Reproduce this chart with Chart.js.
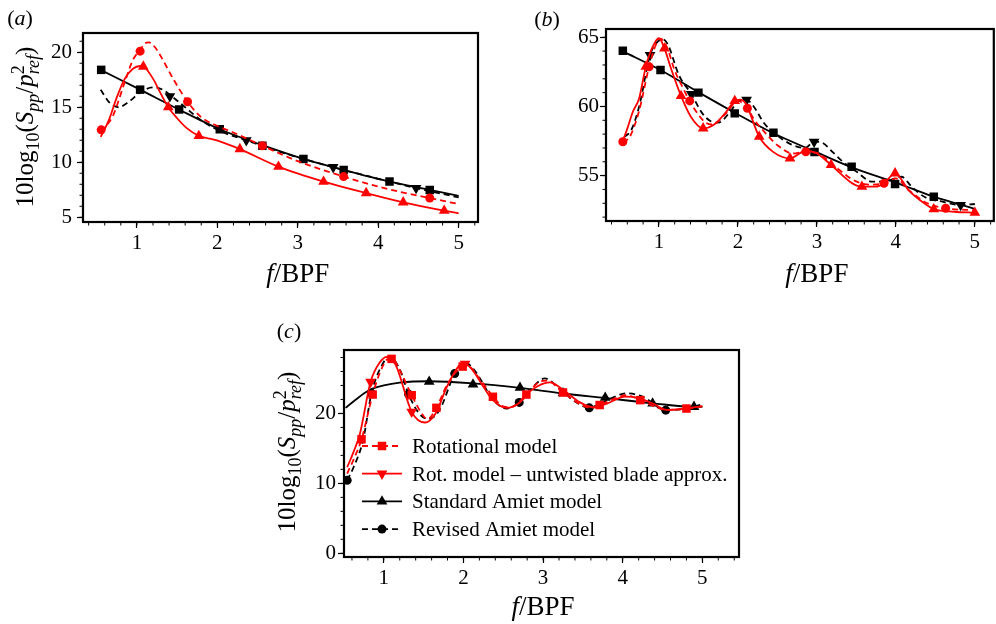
<!DOCTYPE html>
<html>
<head>
<meta charset="utf-8">
<script src="https://cdn.jsdelivr.net/npm/chart.js@4/dist/chart.umd.min.js"></script>
<style>
  body { margin: 0; width: 996px; height: 624px; overflow: hidden; background: #fff; position: relative; }
  canvas { position: absolute; }
</style>
</head>
<body>
<canvas id="ca" width="500" height="290" style="left:0;top:0"></canvas>
<canvas id="cb" width="480" height="290" style="left:520px;top:0"></canvas>
<canvas id="cc" width="500" height="324" style="left:260px;top:300px"></canvas>
<script>
// ---------- panel (a) ----------
const aSolidBlkX = [0.55, 1.04, 1.52, 2.03, 2.56, 3.07, 3.57, 4.14, 4.64, 5.0];
const aSolidBlkY = [18.4, 16.6, 14.8, 13.0, 11.55, 10.3, 9.3, 8.25, 7.5, 6.95];
const aSqX = [0.556, 1.04, 1.525, 2.03, 2.56, 3.07, 3.57, 4.14, 4.64];
const aSqY = [18.4, 16.6, 14.8, 13.0, 11.5, 10.3, 9.3, 8.25, 7.48];

const aDashBlkX = [0.55, 0.65, 0.77, 0.9, 1.05, 1.2, 1.32, 1.45, 1.6, 1.8, 2.03, 2.36, 2.8, 3.44, 4.0, 4.47, 5.0];
const aDashBlkY = [16.6, 15.5, 15.0, 15.5, 16.4, 16.8, 16.6, 15.9, 15.0, 13.8, 12.85, 12.0, 10.9, 9.55, 8.5, 7.65, 6.8];
const aDnX = [1.41, 2.36, 3.44, 4.47];
const aDnY = [16.0, 12.0, 9.55, 7.65];

const aDashRedX = [0.55, 0.7, 0.85, 0.95, 1.04, 1.1, 1.15, 1.22, 1.3, 1.45, 1.63, 1.8, 2.0, 2.2, 2.56, 3.0, 3.57, 4.1, 4.64, 5.0];
const aDashRedY = [12.8, 14.2, 17.3, 19.3, 20.2, 20.8, 20.9, 20.5, 19.6, 17.6, 15.5, 14.1, 13.3, 12.7, 11.5, 10.1, 8.7, 7.6, 6.75, 6.2];
const aCiX = [0.556, 1.04, 1.63, 2.56, 3.57, 4.64];
const aCiY = [12.95, 20.1, 15.5, 11.5, 8.7, 6.75];

const aSolidRedX = [0.55, 0.65, 0.75, 0.85, 0.95, 1.04, 1.1, 1.2, 1.3, 1.39, 1.5, 1.62, 1.77, 1.9, 2.03, 2.28, 2.76, 3.32, 3.85, 4.31, 4.82, 5.0];
const aSolidRedY = [12.3, 13.8, 15.9, 17.6, 18.5, 18.75, 18.6, 17.6, 16.2, 15.0, 14.0, 13.1, 12.4, 12.15, 11.9, 11.2, 9.6, 8.24, 7.2, 6.36, 5.6, 5.36];
const aUpX = [1.08, 1.39, 1.77, 2.28, 2.76, 3.32, 3.85, 4.31, 4.82];
const aUpY = [18.7, 15.0, 12.4, 11.2, 9.6, 8.24, 7.2, 6.36, 5.6];

// ---------- panel (b) ----------
const bSolidBlkX = [0.54, 1.03, 1.51, 1.96, 2.45, 2.97, 3.44, 4.0, 4.48, 5.0];
const bSolidBlkY = [64.0, 62.6, 61.0, 59.55, 58.06, 56.75, 55.6, 54.5, 53.48, 52.6];
const bSqX = [0.543, 1.02, 1.5, 1.96, 2.45, 2.97, 3.44, 3.99, 4.48];
const bSqY = [64.03, 62.64, 61.0, 59.5, 58.1, 56.7, 55.64, 54.4, 53.48];

const bDashBlkX = [0.56, 0.65, 0.75, 0.888, 0.97, 1.05, 1.12, 1.25, 1.41, 1.55, 1.65, 1.75, 1.9, 2.0, 2.11, 2.2, 2.33, 2.5, 2.66, 2.85, 2.965, 3.08, 3.2, 3.33, 3.5, 3.7, 3.9, 4.07, 4.2, 4.36, 4.6, 4.82, 5.0];
const bDashBlkY = [57.8, 58.3, 60.0, 63.72, 64.6, 64.86, 64.4, 62.3, 60.9, 59.5, 58.95, 58.83, 59.6, 60.35, 60.47, 60.0, 58.8, 57.9, 57.3, 57.0, 57.45, 57.34, 56.7, 56.0, 55.3, 54.56, 54.63, 54.92, 54.2, 53.47, 53.1, 52.87, 52.95];
const bDnX = [0.888, 1.41, 2.11, 2.965, 4.82];
const bDnY = [63.72, 60.9, 60.47, 57.45, 52.87];

const bDashRedX = [0.54, 0.63, 0.75, 0.875, 0.95, 1.02, 1.1, 1.2, 1.29, 1.39, 1.5, 1.6, 1.68, 1.85, 2.0, 2.12, 2.2, 2.33, 2.5, 2.7, 2.85, 3.0, 3.24, 3.49, 3.66, 3.85, 4.0, 4.16, 4.4, 4.63, 5.0];
const bDashRedY = [57.45, 57.8, 59.7, 62.87, 64.3, 64.9, 64.3, 62.6, 61.5, 60.4, 59.4, 58.8, 58.7, 59.5, 60.4, 59.87, 59.1, 58.2, 57.2, 56.6, 56.73, 56.65, 55.6, 54.6, 54.35, 54.44, 54.8, 53.97, 53.0, 52.64, 52.5];
const bCiX = [0.543, 0.875, 1.39, 2.12, 2.86, 3.85, 4.63];
const bCiY = [57.45, 62.87, 60.4, 59.87, 56.73, 54.44, 52.64];

const bSolidRedX = [0.54, 0.6, 0.67, 0.75, 0.834, 0.92, 1.0, 1.07, 1.15, 1.28, 1.4, 1.56, 1.7, 1.85, 1.96, 2.03, 2.1, 2.27, 2.45, 2.66, 2.86, 3.0, 3.18, 3.45, 3.57, 3.74, 3.85, 3.99, 4.16, 4.36, 4.48, 4.74, 5.0];
const bSolidRedY = [57.45, 58.4, 59.62, 60.6, 62.87, 64.3, 64.93, 64.2, 62.8, 60.76, 59.3, 58.42, 58.7, 59.6, 60.4, 60.5, 60.2, 57.81, 56.7, 56.25, 56.8, 56.6, 55.77, 54.44, 54.2, 54.2, 54.44, 55.17, 53.96, 53.0, 52.58, 52.39, 52.32];
const bUpX = [0.834, 1.07, 1.28, 1.56, 1.96, 2.27, 2.66, 3.18, 3.57, 3.99, 4.48, 5.0];
const bUpY = [62.87, 64.2, 60.76, 58.42, 60.4, 57.81, 56.25, 55.77, 54.2, 55.17, 52.58, 52.32];

// ---------- panel (c) ----------
const legendLabels = ['Rotational model', 'Rot. model \u2013 untwisted blade approx.', 'Standard Amiet model', 'Revised Amiet model'];

const cRotX = [0.54, 0.62, 0.72, 0.86, 0.95, 1.05, 1.1, 1.2, 1.35, 1.5, 1.55, 1.66, 1.8, 1.99, 2.05, 2.2, 2.37, 2.5, 2.6, 2.79, 2.95, 3.05, 3.25, 3.45, 3.6, 3.71, 3.85, 4.05, 4.22, 4.4, 4.55, 4.8, 5.0];
const cRotY = [11.4, 13.4, 16.3, 22.7, 25.8, 27.8, 27.9, 26.2, 22.6, 19.6, 19.2, 20.8, 24.2, 26.7, 26.8, 25.0, 22.4, 21.0, 20.9, 22.7, 24.5, 24.7, 23.0, 21.4, 20.8, 21.2, 21.9, 22.6, 21.9, 21.0, 20.5, 20.7, 21.0];
const cRotMX = [0.72, 0.86, 1.097, 1.35, 1.66, 1.99, 2.37, 2.79, 3.25, 3.71, 4.22, 4.8];
const cRotMY = [16.3, 22.7, 27.8, 22.6, 20.8, 26.7, 22.38, 22.7, 23.0, 21.2, 21.9, 20.7];

const cUntX = [0.54, 0.62, 0.7, 0.833, 0.95, 1.04, 1.15, 1.35, 1.515, 1.65, 1.8, 1.996, 2.1, 2.25, 2.37, 2.54, 2.7, 2.85, 3.085, 3.25, 3.45, 3.63, 3.8, 4.03, 4.2, 4.38, 4.55, 4.72, 5.0];
const cUntY = [12.3, 14.5, 17.1, 24.5, 27.3, 28.1, 26.9, 20.23, 18.7, 20.0, 24.0, 27.16, 26.4, 23.8, 21.9, 20.8, 21.5, 23.3, 24.45, 23.4, 21.67, 20.86, 21.4, 22.4, 22.2, 21.4, 20.5, 20.6, 21.05];
const cUntMX = [0.833, 1.35, 2.02];
const cUntMY = [24.5, 20.23, 27.1];

const cStdX = [0.52, 0.65, 0.82, 1.0, 1.2, 1.57, 2.12, 2.71, 3.25, 3.78, 4.375, 4.895, 5.0];
const cStdY = [20.8, 22.0, 23.35, 24.0, 24.4, 24.6, 24.3, 23.65, 22.85, 22.2, 21.45, 20.95, 20.95];
const cStdMX = [1.57, 2.12, 2.71, 3.25, 3.78, 4.375, 4.895];
const cStdMY = [24.53, 24.15, 23.67, 22.9, 22.24, 21.43, 20.95];

const cRevX = [0.54, 0.62, 0.74, 0.845, 0.95, 1.075, 1.2, 1.31, 1.45, 1.56, 1.7, 1.89, 2.02, 2.15, 2.37, 2.54, 2.7, 2.85, 3.02, 3.2, 3.4, 3.58, 3.75, 4.05, 4.25, 4.54, 4.75, 5.0];
const cRevY = [10.43, 12.3, 16.2, 22.87, 26.3, 28.12, 26.3, 22.77, 19.9, 19.2, 20.5, 25.7, 27.3, 26.0, 22.0, 20.7, 21.58, 23.5, 25.0, 23.6, 21.7, 20.8, 21.6, 22.87, 22.4, 20.47, 20.6, 21.3];
const cRevMX = [0.54, 0.845, 1.31, 1.89, 2.7, 3.58, 4.54];
const cRevMY = [10.43, 22.87, 22.77, 25.7, 21.58, 20.8, 20.47];

// ---------- styling ----------
const FONT = "'Liberation Serif', 'Times New Roman', serif";
const RED = '#ff0000', BLK = '#000000';
const DASH = [6, 4];
const SQ = { style: 'rect', r: 6 }, CI = { style: 'circle', r: 4.5 };
const UP = { style: 'triangle', r: 6.2, rot: 0 }, DN = { style: 'triangle', r: 6.2, rot: 180 };

function series(x, y, mx, my, color, dash, mk) {
  return [
    { data: x.map((v, i) => ({ x: v, y: y[i] })), borderColor: color, borderWidth: 1.8,
      borderDash: dash, pointRadius: 0, cubicInterpolationMode: 'monotone', fill: false },
    { data: mx.map((v, i) => ({ x: v, y: my[i] })), showLine: false, pointStyle: mk.style,
      rotation: mk.rot || 0, pointRadius: mk.r, backgroundColor: color, borderColor: color, borderWidth: 0 }
  ];
}

function rich(ctx, segs, x, y) {
  const f = s => (s.i ? 'italic ' : '') + s.s + 'px ' + FONT;
  const widths = segs.map(s => {
    ctx.font = f(s);
    let w = ctx.measureText(s.t).width;
    if (s.under) { ctx.font = f(s.under); w = Math.max(w, ctx.measureText(s.under.t).width); }
    return w;
  });
  let cx = x - widths.reduce((a, b) => a + b, 0) / 2;
  ctx.textAlign = 'left';
  ctx.textBaseline = 'alphabetic';
  segs.forEach((s, k) => {
    ctx.font = f(s);
    ctx.fillText(s.t, cx, y + (s.dy || 0));
    if (s.under) { ctx.font = f(s.under); ctx.fillText(s.under.t, cx, y + s.under.dy); }
    cx += widths[k];
  });
}

const yTitle = [
  { t: '10log', s: 25 }, { t: '10', s: 18, dy: 6 }, { t: '(', s: 25 }, { t: 'S', s: 25, i: true },
  { t: 'pp', s: 18, i: true, dy: 6 }, { t: '/', s: 25 }, { t: 'p', s: 25, i: true },
  { t: '2', s: 18, dy: -9, under: { t: 'ref', s: 18, i: true, dy: 6 } }, { t: ')', s: 25 }
];
const xTitle = [{ t: 'f', s: 27, i: true }, { t: '/BPF', s: 27 }];

const deco = {
  id: 'deco',
  afterDraw(chart, args, o) {
    const { ctx, chartArea: a, scales: { x, y } } = chart;
    ctx.save();
    ctx.strokeStyle = BLK;
    ctx.lineWidth = 2.2;
    ctx.strokeRect(a.left, a.top, a.right - a.left, a.bottom - a.top);
    // minor ticks
    ctx.lineWidth = 1;
    ctx.beginPath();
    for (let k = Math.ceil(x.min / o.mx); k * o.mx <= x.max; k++) {
      const px = x.getPixelForValue(k * o.mx);
      ctx.moveTo(px, a.bottom); ctx.lineTo(px, a.bottom + 3.5);
    }
    for (let k = Math.ceil(y.min / o.my); k * o.my <= y.max; k++) {
      const py = y.getPixelForValue(k * o.my);
      ctx.moveTo(a.left, py); ctx.lineTo(a.left - 3.5, py);
    }
    ctx.stroke();
    ctx.fillStyle = BLK;
    // panel label
    rich(ctx, [{ t: '(', s: 22 }, { t: o.label, s: 22, i: true }, { t: ')', s: 22 }], o.lx, o.ly);
    // x title
    rich(ctx, xTitle, x.getPixelForValue(3), o.xty);
    // y title
    if (o.yt) {
      ctx.save();
      ctx.translate(o.yt[0], o.yt[1]);
      ctx.rotate(-Math.PI / 2);
      rich(ctx, yTitle, 0, 0);
      ctx.restore();
    }
    // legend
    if (o.legend) {
      o.legend.forEach((it, k) => {
        const ly = o.legY + k * o.legDy;
        ctx.strokeStyle = it.color;
        ctx.lineWidth = 1.8;
        ctx.setLineDash(it.dash);
        ctx.beginPath(); ctx.moveTo(o.legX, ly); ctx.lineTo(o.legX + 40, ly); ctx.stroke();
        ctx.setLineDash([]);
        ctx.fillStyle = it.color;
        Chart.helpers.drawPoint(ctx, { pointStyle: it.mk.style, rotation: it.mk.rot || 0, radius: it.mk.r, borderWidth: 0 }, o.legX + 20, ly);
        ctx.fillStyle = BLK;
        ctx.font = '21px ' + FONT;
        ctx.textAlign = 'left';
        ctx.textBaseline = 'alphabetic';
        ctx.fillText(legendLabels[k], o.legX + 50, ly + 7);
      });
    }
    ctx.restore();
  }
};

function panel(id, p) {
  const tickFont = { family: FONT, size: 21 };
  new Chart(document.getElementById(id), {
    type: 'line',
    data: { datasets: p.datasets },
    options: {
      responsive: false, animation: false, events: [],
      layout: { padding: { left: 0, top: p.top, right: p.right, bottom: 0 } },
      plugins: { legend: { display: false }, tooltip: { enabled: false }, deco: p.deco },
      scales: {
        x: {
          type: 'linear', min: p.xmin, max: p.xmax,
          afterBuildTicks: s => { s.ticks = [1, 2, 3, 4, 5].map(v => ({ value: v })); },
          afterFit: s => { s.height = p.xh; },
          ticks: { font: tickFont, color: BLK, padding: 3, maxRotation: 0, autoSkip: false },
          grid: { drawOnChartArea: false, tickLength: 6, tickColor: BLK, tickWidth: 1.2 },
          border: { display: false }
        },
        y: {
          min: p.ymin, max: p.ymax,
          afterBuildTicks: s => { s.ticks = p.yticks.map(v => ({ value: v })); },
          afterFit: s => { s.width = p.yw; },
          ticks: { font: tickFont, color: BLK, padding: p.ypad, autoSkip: false },
          grid: { drawOnChartArea: false, tickLength: 6, tickColor: BLK, tickWidth: 1.2 },
          border: { display: false }
        }
      }
    },
    plugins: [deco]
  });
}

panel('ca', {
  datasets: [
    ...series(aSolidRedX, aSolidRedY, aUpX, aUpY, RED, [], UP),
    ...series(aDashRedX, aDashRedY, aCiX, aCiY, RED, DASH, CI),
    ...series(aDashBlkX, aDashBlkY, aDnX, aDnY, BLK, DASH, DN),
    ...series(aSolidBlkX, aSolidBlkY, aSqX, aSqY, BLK, [], SQ)
  ],
  xmin: 0.33, xmax: 5.24, ymin: 4.57, ymax: 21.75, yticks: [5, 10, 15, 20],
  top: 33, right: 22, yw: 83, xh: 68, ypad: 5,
  deco: { label: 'a', lx: 20, ly: 25, xty: 282, yt: [33, 127], mx: 0.2, my: 1 }
});

panel('cb', {
  datasets: [
    ...series(bSolidRedX, bSolidRedY, bUpX, bUpY, RED, [], UP),
    ...series(bDashRedX, bDashRedY, bCiX, bCiY, RED, DASH, CI),
    ...series(bDashBlkX, bDashBlkY, bDnX, bDnY, BLK, DASH, DN),
    ...series(bSolidBlkX, bSolidBlkY, bSqX, bSqY, BLK, [], SQ)
  ],
  xmin: 0.33, xmax: 5.24, ymin: 51.72, ymax: 65.6, yticks: [55, 60, 65],
  top: 29, right: 0, yw: 86, xh: 69, ypad: 1,
  deco: { label: 'b', lx: 27, ly: 26, xty: 282, yt: null, mx: 0.2, my: 1 }
});

panel('cc', {
  datasets: [
    ...series(cRotX, cRotY, cRotMX, cRotMY, RED, DASH, SQ),
    ...series(cUntX, cUntY, cUntMX, cUntMY, RED, [], DN),
    ...series(cRevX, cRevY, cRevMX, cRevMY, BLK, DASH, CI),
    ...series(cStdX, cStdY, cStdMX, cStdMY, BLK, [], UP)
  ],
  xmin: 0.5, xmax: 5.46, ymin: -0.53, ymax: 29.07, yticks: [0, 10, 20],
  top: 50, right: 21, yw: 84, xh: 67, ypad: 2,
  deco: {
    label: 'c', lx: 29, ly: 38, xty: 315, yt: [35, 152], mx: 0.2, my: 2,
    legX: 102, legY: 146, legDy: 27.7,
    legend: [
      { color: RED, dash: DASH, mk: SQ },
      { color: RED, dash: [], mk: DN },
      { color: BLK, dash: [], mk: UP },
      { color: BLK, dash: DASH, mk: CI }
    ]
  }
});
</script>
</body>
</html>
